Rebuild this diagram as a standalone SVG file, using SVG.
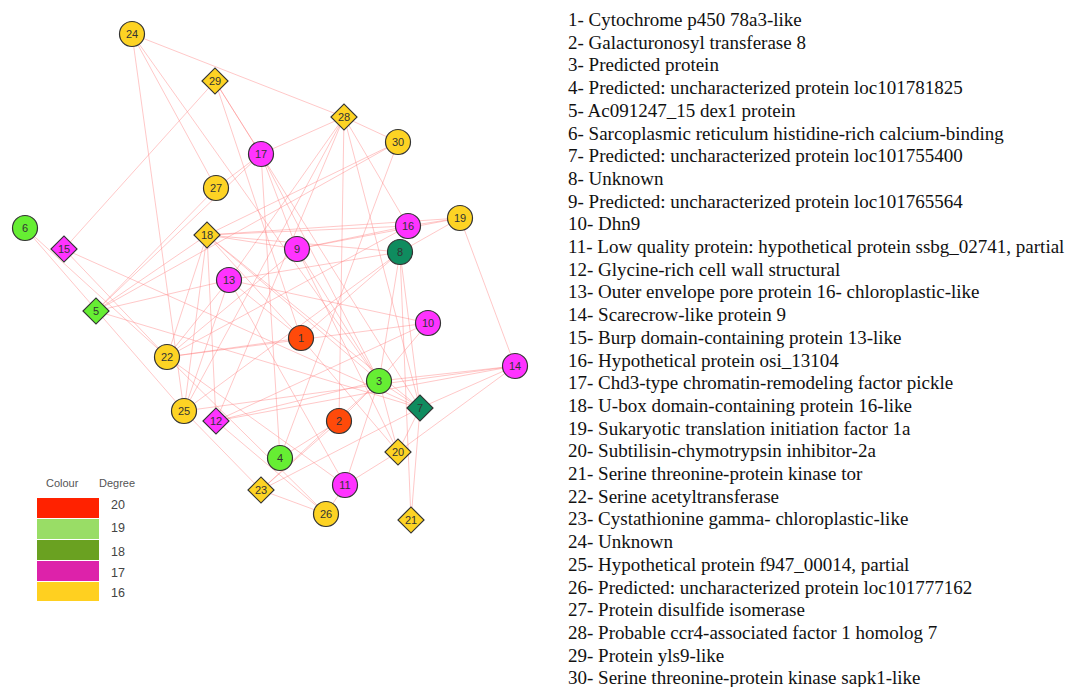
<svg xmlns="http://www.w3.org/2000/svg" width="1067" height="687" viewBox="0 0 1067 687">
<style>
.e{stroke:#ff8080;stroke-opacity:0.55;stroke-width:0.8;fill:none}
.n{stroke:#333;stroke-width:1.2}
.y{fill:#fdd324}.m{fill:#ff33ff}.g{fill:#66ee33}.t{fill:#0f8c5f}.r{fill:#ff4a0a}
.l{font-family:"Liberation Sans",Arial,sans-serif;font-size:11px;fill:#333;text-anchor:middle;dominant-baseline:central}
.lg{font-family:"Liberation Sans",Arial,sans-serif;font-size:11px;fill:#555}
.ln{font-family:"Liberation Sans",Arial,sans-serif;font-size:12.5px;fill:#444}
.tx{font-family:"Liberation Serif","Times New Roman",serif;font-size:19px;fill:#111}
</style>
<defs>
<circle id="c" r="12.5"/>
<rect id="d" x="-9.2" y="-9.2" width="18.4" height="18.4" transform="rotate(45)"/>
</defs>
<rect width="1067" height="687" fill="#fff"/>
<g id="edges" class="e">
<line x1="132" y1="34" x2="344" y2="117"/>
<line x1="132" y1="34" x2="216" y2="188"/>
<line x1="132" y1="34" x2="184" y2="411"/>
<line x1="132" y1="34" x2="379" y2="381"/>
<line x1="215" y1="81" x2="64" y2="249"/>
<line x1="215" y1="81" x2="261" y2="154"/>
<line x1="215" y1="81" x2="420" y2="408"/>
<line x1="215" y1="81" x2="301" y2="338"/>
<line x1="344" y1="117" x2="398" y2="142"/>
<line x1="344" y1="117" x2="261" y2="154"/>
<line x1="344" y1="117" x2="408" y2="226"/>
<line x1="344" y1="117" x2="420" y2="408"/>
<line x1="344" y1="117" x2="229" y2="280"/>
<line x1="344" y1="117" x2="184" y2="411"/>
<line x1="344" y1="117" x2="216" y2="421"/>
<line x1="344" y1="117" x2="339" y2="421"/>
<line x1="398" y1="142" x2="207" y2="235"/>
<line x1="398" y1="142" x2="96" y2="311"/>
<line x1="398" y1="142" x2="280" y2="458"/>
<line x1="261" y1="154" x2="216" y2="188"/>
<line x1="261" y1="154" x2="297" y2="249"/>
<line x1="261" y1="154" x2="280" y2="458"/>
<line x1="261" y1="154" x2="96" y2="311"/>
<line x1="261" y1="154" x2="379" y2="381"/>
<line x1="216" y1="188" x2="96" y2="311"/>
<line x1="25" y1="228" x2="184" y2="411"/>
<line x1="25" y1="228" x2="167" y2="357"/>
<line x1="64" y1="249" x2="167" y2="357"/>
<line x1="64" y1="249" x2="420" y2="408"/>
<line x1="96" y1="311" x2="207" y2="235"/>
<line x1="96" y1="311" x2="229" y2="280"/>
<line x1="96" y1="311" x2="420" y2="408"/>
<line x1="207" y1="235" x2="400" y2="252"/>
<line x1="207" y1="235" x2="408" y2="226"/>
<line x1="207" y1="235" x2="460" y2="218"/>
<line x1="207" y1="235" x2="297" y2="249"/>
<line x1="207" y1="235" x2="379" y2="381"/>
<line x1="207" y1="235" x2="420" y2="408"/>
<line x1="207" y1="235" x2="301" y2="338"/>
<line x1="207" y1="235" x2="167" y2="357"/>
<line x1="207" y1="235" x2="184" y2="411"/>
<line x1="207" y1="235" x2="216" y2="421"/>
<line x1="229" y1="280" x2="167" y2="357"/>
<line x1="229" y1="280" x2="428" y2="323"/>
<line x1="229" y1="280" x2="301" y2="338"/>
<line x1="229" y1="280" x2="400" y2="252"/>
<line x1="229" y1="280" x2="184" y2="411"/>
<line x1="297" y1="249" x2="379" y2="381"/>
<line x1="297" y1="249" x2="408" y2="226"/>
<line x1="297" y1="249" x2="167" y2="357"/>
<line x1="297" y1="249" x2="398" y2="452"/>
<line x1="297" y1="249" x2="460" y2="218"/>
<line x1="301" y1="338" x2="167" y2="357"/>
<line x1="301" y1="338" x2="398" y2="452"/>
<line x1="301" y1="338" x2="400" y2="252"/>
<line x1="167" y1="357" x2="428" y2="323"/>
<line x1="167" y1="357" x2="345" y2="485"/>
<line x1="167" y1="357" x2="408" y2="226"/>
<line x1="167" y1="357" x2="326" y2="514"/>
<line x1="184" y1="411" x2="515" y2="366"/>
<line x1="184" y1="411" x2="400" y2="252"/>
<line x1="216" y1="421" x2="428" y2="323"/>
<line x1="216" y1="421" x2="379" y2="381"/>
<line x1="216" y1="421" x2="326" y2="514"/>
<line x1="216" y1="421" x2="515" y2="366"/>
<line x1="379" y1="381" x2="515" y2="366"/>
<line x1="379" y1="381" x2="400" y2="252"/>
<line x1="379" y1="381" x2="428" y2="323"/>
<line x1="379" y1="381" x2="261" y2="490"/>
<line x1="379" y1="381" x2="420" y2="408"/>
<line x1="379" y1="381" x2="398" y2="452"/>
<line x1="420" y1="408" x2="515" y2="366"/>
<line x1="420" y1="408" x2="400" y2="252"/>
<line x1="420" y1="408" x2="261" y2="490"/>
<line x1="420" y1="408" x2="398" y2="452"/>
<line x1="420" y1="408" x2="411" y2="520"/>
<line x1="339" y1="421" x2="261" y2="490"/>
<line x1="339" y1="421" x2="280" y2="458"/>
<line x1="339" y1="421" x2="379" y2="381"/>
<line x1="398" y1="452" x2="515" y2="366"/>
<line x1="398" y1="452" x2="345" y2="485"/>
<line x1="261" y1="490" x2="326" y2="514"/>
<line x1="261" y1="490" x2="184" y2="411"/>
<line x1="345" y1="485" x2="326" y2="514"/>
<line x1="345" y1="485" x2="229" y2="280"/>
<line x1="345" y1="485" x2="379" y2="381"/>
<line x1="411" y1="520" x2="400" y2="252"/>
<line x1="460" y1="218" x2="400" y2="252"/>
<line x1="460" y1="218" x2="515" y2="366"/>
<line x1="460" y1="218" x2="408" y2="226"/>
</g>
<g id="node-24"><use href="#c" x="132" y="34" class="n y"/><text x="132" y="34" class="l">24</text></g>
<g id="node-29"><use href="#d" x="215" y="81" class="n y"/><text x="215" y="81" class="l">29</text></g>
<g id="node-28"><use href="#d" x="344" y="117" class="n y"/><text x="344" y="117" class="l">28</text></g>
<g id="node-30"><use href="#c" x="398" y="142" class="n y"/><text x="398" y="142" class="l">30</text></g>
<g id="node-17"><use href="#c" x="261" y="154" class="n m"/><text x="261" y="154" class="l">17</text></g>
<g id="node-27"><use href="#c" x="216" y="188" class="n y"/><text x="216" y="188" class="l">27</text></g>
<g id="node-6"><use href="#c" x="25" y="228" class="n g"/><text x="25" y="228" class="l">6</text></g>
<g id="node-15"><use href="#d" x="64" y="249" class="n m"/><text x="64" y="249" class="l">15</text></g>
<g id="node-18"><use href="#d" x="207" y="235" class="n y"/><text x="207" y="235" class="l">18</text></g>
<g id="node-9"><use href="#c" x="297" y="249" class="n m"/><text x="297" y="249" class="l">9</text></g>
<g id="node-16"><use href="#c" x="408" y="226" class="n m"/><text x="408" y="226" class="l">16</text></g>
<g id="node-19"><use href="#c" x="460" y="218" class="n y"/><text x="460" y="218" class="l">19</text></g>
<g id="node-8"><use href="#c" x="400" y="252" class="n t"/><text x="400" y="252" class="l">8</text></g>
<g id="node-13"><use href="#c" x="229" y="280" class="n m"/><text x="229" y="280" class="l">13</text></g>
<g id="node-5"><use href="#d" x="96" y="311" class="n g"/><text x="96" y="311" class="l">5</text></g>
<g id="node-10"><use href="#c" x="428" y="323" class="n m"/><text x="428" y="323" class="l">10</text></g>
<g id="node-1"><use href="#c" x="301" y="338" class="n r"/><text x="301" y="338" class="l">1</text></g>
<g id="node-22"><use href="#c" x="167" y="357" class="n y"/><text x="167" y="357" class="l">22</text></g>
<g id="node-14"><use href="#c" x="515" y="366" class="n m"/><text x="515" y="366" class="l">14</text></g>
<g id="node-3"><use href="#c" x="379" y="381" class="n g"/><text x="379" y="381" class="l">3</text></g>
<g id="node-7"><use href="#d" x="420" y="408" class="n t"/><text x="420" y="408" class="l">7</text></g>
<g id="node-25"><use href="#c" x="184" y="411" class="n y"/><text x="184" y="411" class="l">25</text></g>
<g id="node-12"><use href="#d" x="216" y="421" class="n m"/><text x="216" y="421" class="l">12</text></g>
<g id="node-2"><use href="#c" x="339" y="421" class="n r"/><text x="339" y="421" class="l">2</text></g>
<g id="node-20"><use href="#d" x="398" y="452" class="n y"/><text x="398" y="452" class="l">20</text></g>
<g id="node-4"><use href="#c" x="280" y="458" class="n g"/><text x="280" y="458" class="l">4</text></g>
<g id="node-23"><use href="#d" x="261" y="490" class="n y"/><text x="261" y="490" class="l">23</text></g>
<g id="node-11"><use href="#c" x="345" y="485" class="n m"/><text x="345" y="485" class="l">11</text></g>
<g id="node-26"><use href="#c" x="326" y="514" class="n y"/><text x="326" y="514" class="l">26</text></g>
<g id="node-21"><use href="#d" x="411" y="520" class="n y"/><text x="411" y="520" class="l">21</text></g>
<g id="legend">
<text x="46" y="487" class="lg">Colour</text>
<text x="99" y="487" class="lg">Degree</text>
<rect x="37" y="498" width="62" height="20" fill="#ff2200"/>
<rect x="37" y="519" width="62" height="20" fill="#99dd66"/>
<rect x="37" y="540" width="62" height="20" fill="#6aa121"/>
<rect x="37" y="561" width="62" height="20" fill="#dd22aa"/>
<rect x="37" y="582" width="62" height="19" fill="#ffd020"/>
<text x="111" y="509" class="ln">20</text>
<text x="111" y="532" class="ln">19</text>
<text x="111" y="556" class="ln">18</text>
<text x="111" y="577" class="ln">17</text>
<text x="111" y="597" class="ln">16</text>
</g>
<g id="key" class="tx">
<text x="568" y="26">1- Cytochrome p450 78a3-like</text>
<text x="568" y="48.7">2- Galacturonosyl transferase 8</text>
<text x="568" y="71.4">3- Predicted protein</text>
<text x="568" y="94.1">4- Predicted: uncharacterized protein loc101781825</text>
<text x="568" y="116.8">5- Ac091247_15 dex1 protein</text>
<text x="568" y="139.5">6- Sarcoplasmic reticulum histidine-rich calcium-binding</text>
<text x="568" y="162.2">7- Predicted: uncharacterized protein loc101755400</text>
<text x="568" y="184.9">8- Unknown</text>
<text x="568" y="207.6">9- Predicted: uncharacterized protein loc101765564</text>
<text x="568" y="230.3">10- Dhn9</text>
<text x="568" y="253">11- Low quality protein: hypothetical protein ssbg_02741, partial</text>
<text x="568" y="275.7">12- Glycine-rich cell wall structural</text>
<text x="568" y="298.4">13- Outer envelope pore protein 16- chloroplastic-like</text>
<text x="568" y="321.1">14- Scarecrow-like protein 9</text>
<text x="568" y="343.8">15- Burp domain-containing protein 13-like</text>
<text x="568" y="366.5">16- Hypothetical protein osi_13104</text>
<text x="568" y="389.2">17- Chd3-type chromatin-remodeling factor pickle</text>
<text x="568" y="411.9">18- U-box domain-containing protein 16-like</text>
<text x="568" y="434.6">19- Sukaryotic translation initiation factor 1a</text>
<text x="568" y="457.3">20- Subtilisin-chymotrypsin inhibitor-2a</text>
<text x="568" y="480">21- Serine threonine-protein kinase tor</text>
<text x="568" y="502.7">22- Serine acetyltransferase</text>
<text x="568" y="525.4">23- Cystathionine gamma- chloroplastic-like</text>
<text x="568" y="548.1">24- Unknown</text>
<text x="568" y="570.8">25- Hypothetical protein f947_00014, partial</text>
<text x="568" y="593.5">26- Predicted: uncharacterized protein loc101777162</text>
<text x="568" y="616.2">27- Protein disulfide isomerase</text>
<text x="568" y="638.9">28- Probable ccr4-associated factor 1 homolog 7</text>
<text x="568" y="661.6">29- Protein yls9-like</text>
<text x="568" y="684.3">30- Serine threonine-protein kinase sapk1-like</text>
</g>
</svg>
